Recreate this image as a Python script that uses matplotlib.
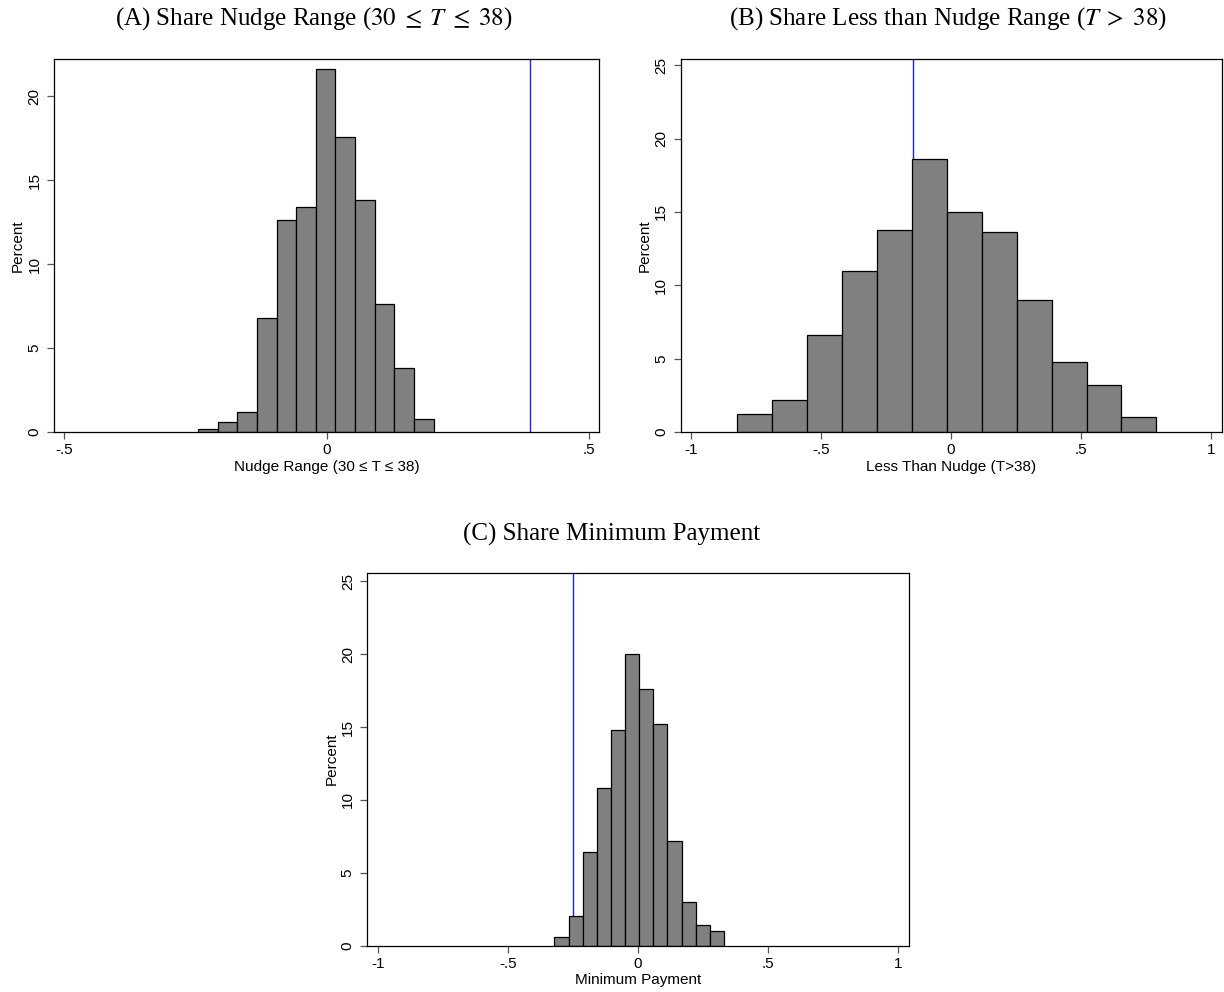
import numpy as np
import matplotlib
matplotlib.use("Agg")
import matplotlib.pyplot as plt
from matplotlib import font_manager

# ---------------- data ----------------
# Panel A: Share Nudge Range (30 <= T <= 38)
a_bin_start = -0.245
a_bin_width = 0.0374
a_percent = [0.2, 0.6, 1.2, 6.8, 12.6, 13.4, 21.6, 17.6, 13.8, 7.6, 3.8, 0.8]
a_actual = 0.387

# Panel B: Share Less than Nudge Range (T > 38)
b_bin_start = -0.824
b_bin_width = 0.1345
b_percent = [1.2, 2.2, 6.6, 11.0, 13.8, 18.6, 15.0, 13.6, 9.0, 4.8, 3.2, 1.0]
b_actual = -0.146

# Panel C: Share Minimum Payment
c_bin_start = -0.321
c_bin_width = 0.0543
c_percent = [0.6, 2.0, 6.4, 10.8, 14.8, 20.0, 17.6, 15.2, 7.2, 3.0, 1.4, 1.0]
c_actual = -0.25

titles = ["(A) Share Nudge Range ($30\\;\\leq\\;T\\;\\leq\\;38$)",
          "(B) Share Less than Nudge Range ($T\\;>\\;38$)",
          "(C) Share Minimum Payment"]
xlabels = ["Nudge Range (30 \u2264 T \u2264 38)", "Less Than Nudge (T>38)", "Minimum Payment"]
a_xticks = [-0.5, 0, 0.5]
a_xticklabels = ["-.5", "0", ".5"]
bc_xticks = [-1, -0.5, 0, 0.5, 1]
bc_xticklabels = ["-1", "-.5", "0", ".5", "1"]
a_yticks = [0, 5, 10, 15, 20]
bc_yticks = [0, 5, 10, 15, 20, 25]

# ---------------- fonts ----------------
names = {f.name for f in font_manager.fontManager.ttflist}
if "Liberation Sans Narrow" in names:
    sans = "Liberation Sans Narrow"
    sans_size = 12
else:
    sans = "Liberation Sans"
    sans_size = 11
serif = "Liberation Serif"
plt.rcParams["mathtext.fontset"] = "stix"

W, H = 1224, 992
fig = plt.figure(figsize=(W / 100, H / 100), dpi=100)


def add_axes(left, top, width, height):
    return fig.add_axes([left / W, 1 - (top + height) / H, width / W, height / H])


def draw(ax, start, width, pct, actual, xlim, ylim, xticks, xticklabels, yticks, xlabel):
    pct = np.asarray(pct)
    lefts = start + width * np.arange(len(pct))
    ax.bar(lefts, pct, width=width, align="edge", color="#808080",
           edgecolor="black", linewidth=0.9, zorder=2)
    # reference line sits behind the bars
    ax.axvline(actual, color="#1f1fff", linewidth=1.0, zorder=1)
    ax.set_xlim(*xlim)
    ax.set_ylim(*ylim)
    ax.set_xticks(xticks)
    ax.set_xticklabels(xticklabels, fontfamily=sans, fontsize=sans_size)
    ax.set_yticks(yticks)
    ax.set_yticklabels([str(v) for v in yticks], fontfamily=sans, fontsize=sans_size,
                       rotation=90, va="center")
    ax.tick_params(axis="both", direction="out", length=5, width=0.9, color="#555555")
    ax.tick_params(axis="x", pad=3)
    ax.tick_params(axis="y", pad=4)
    for s in ax.spines.values():
        s.set_linewidth(0.9)
        s.set_color("black")
        s.set_zorder(3)
    ax.set_xlabel(xlabel, fontfamily=sans, fontsize=sans_size, labelpad=2)
    ax.set_ylabel("Percent", fontfamily=sans, fontsize=sans_size)
    ax.yaxis.set_label_coords(-29 / (ax.get_position().width * W), 0.5)


axA = add_axes(54.2, 59.3, 544.8, 372.7)
draw(axA, a_bin_start, a_bin_width, a_percent, a_actual, (-0.519, 0.519), (0, 22.2),
     a_xticks, a_xticklabels, a_yticks, xlabels[0])

axB = add_axes(680.5, 59.3, 541.0, 372.7)
draw(axB, b_bin_start, b_bin_width, b_percent, b_actual, (-1.04, 1.04), (0, 25.4),
     bc_xticks, bc_xticklabels, bc_yticks, xlabels[1])

axC = add_axes(367.3, 572.7, 541.2, 372.8)
draw(axC, c_bin_start, c_bin_width, c_percent, c_actual, (-1.04, 1.04), (0, 25.6),
     bc_xticks, bc_xticklabels, bc_yticks, xlabels[2])

fig.text(314 / W, 1 - 19 / H, titles[0], fontfamily=serif, fontsize=18, ha="center", va="center")
fig.text(948 / W, 1 - 19 / H, titles[1], fontfamily=serif, fontsize=18, ha="center", va="center")
fig.text(612 / W, 1 - 534 / H, titles[2], fontfamily=serif, fontsize=18, ha="center", va="center")

fig.savefig("out.png", dpi=100, facecolor="white")
